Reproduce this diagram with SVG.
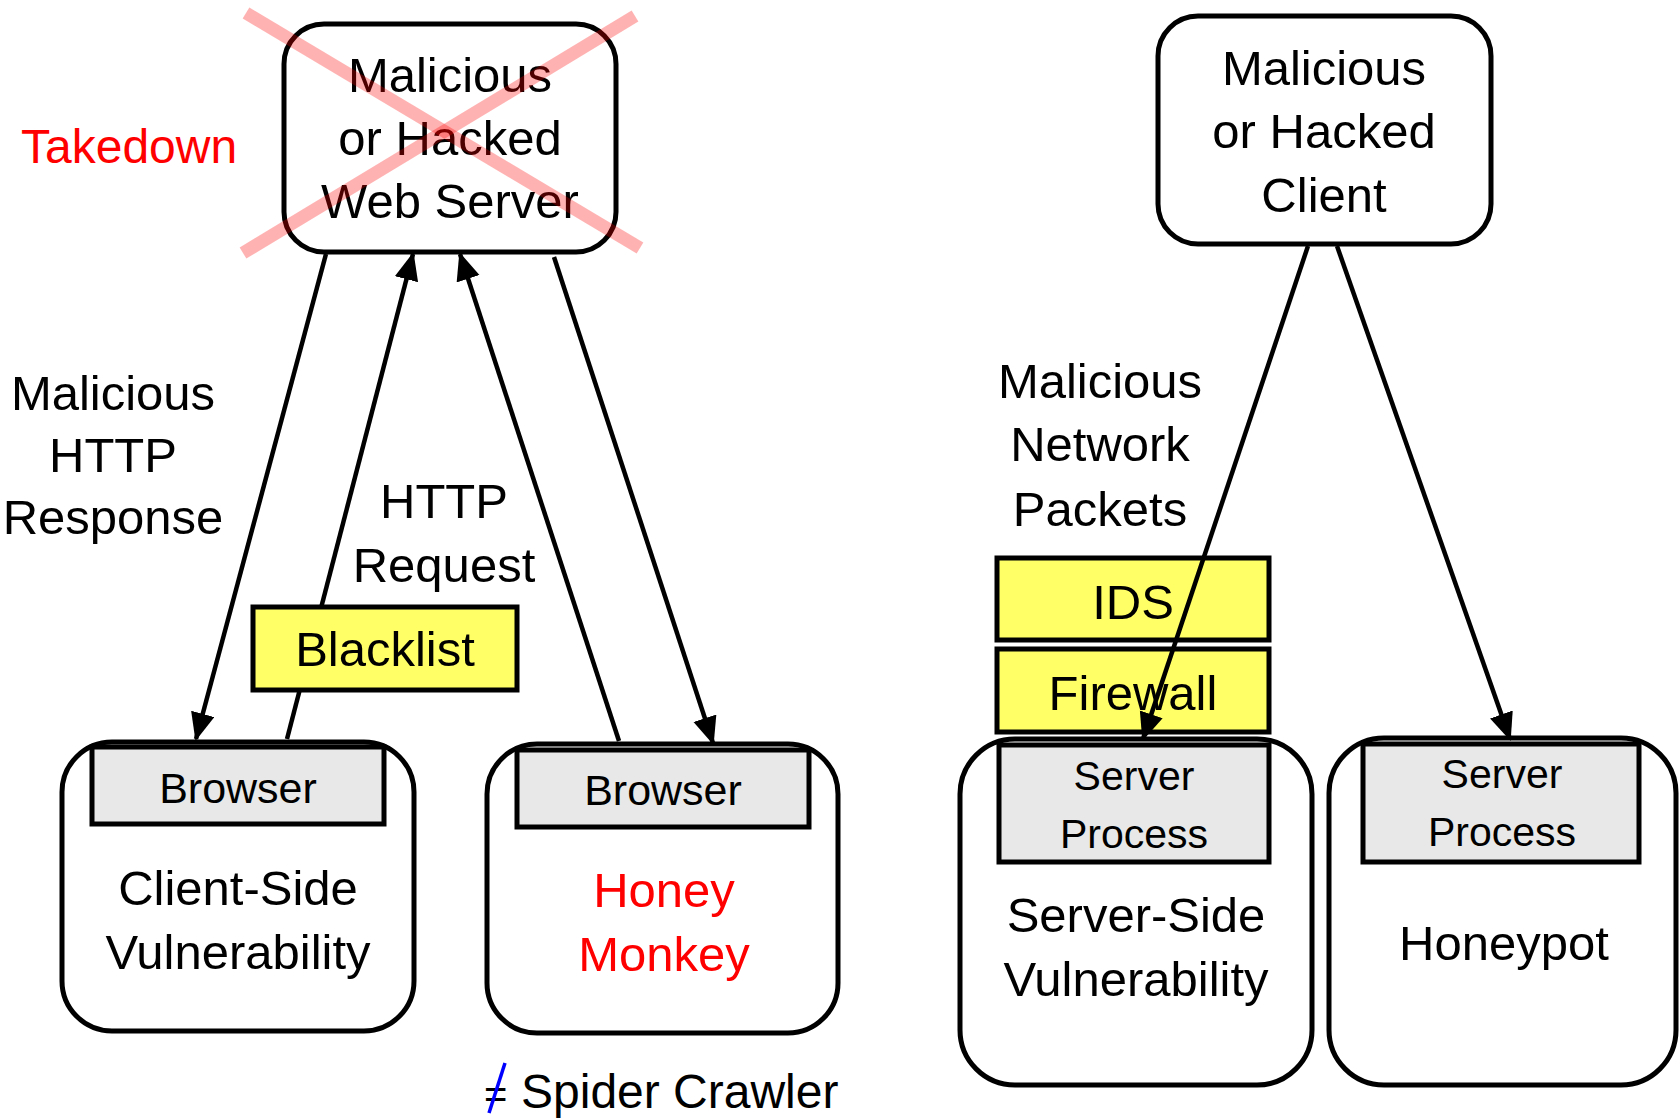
<svg xmlns="http://www.w3.org/2000/svg" width="1679" height="1119" viewBox="0 0 1679 1119">
<defs>
<style>
text{font-family:"Liberation Sans",Arial,sans-serif;fill:#000;text-anchor:middle}
.big{font-size:49px}
.sm{font-size:41px}
.br{font-size:43px}
.red{fill:#ff0000}
.node{fill:#fff;stroke:#000;stroke-width:5}
.sub{fill:#e8e8e8;stroke:#000;stroke-width:5}
.yel{fill:#ffff66;stroke:#000;stroke-width:5}
.conn{stroke:#000;stroke-width:4.5;fill:none;marker-end:url(#arr)}
</style>
<marker id="arr" markerUnits="userSpaceOnUse" markerWidth="30" markerHeight="26" refX="26" refY="12" orient="auto">
<path d="M0,0 L28,12 L0,24 z" fill="#000"/>
</marker>
</defs>
<rect width="1679" height="1119" fill="#fff"/>

<g id="takedown-label"><text class="big red" x="21" y="163" style="text-anchor:start;font-size:48px">Takedown</text></g>

<g id="web-server">
<rect class="node" x="284" y="24" width="332" height="228" rx="40"/>
<text class="big" x="450" y="92">Malicious</text>
<text class="big" x="450" y="155">or Hacked</text>
<text class="big" x="450" y="218">Web Server</text>
</g>

<g id="hacked-client">
<rect class="node" x="1158" y="16" width="333" height="228" rx="40"/>
<text class="big" x="1324" y="85">Malicious</text>
<text class="big" x="1324" y="148">or Hacked</text>
<text class="big" x="1324" y="212">Client</text>
</g>

<g id="label-response">
<text class="big" x="113" y="410">Malicious</text>
<text class="big" x="113" y="472">HTTP</text>
<text class="big" x="113" y="534">Response</text>
</g>
<g id="label-request">
<text class="big" x="444" y="518">HTTP</text>
<text class="big" x="444" y="582">Request</text>
</g>
<g id="label-packets">
<text class="big" x="1100" y="398">Malicious</text>
<text class="big" x="1100" y="461">Network</text>
<text class="big" x="1100" y="526">Packets</text>
</g>

<g id="client-side">
<rect class="node" x="62" y="742" width="352" height="289" rx="50"/>
<rect class="sub" x="92" y="747" width="292" height="77"/>
<text class="br" x="238" y="803">Browser</text>
<text class="big" x="238" y="905">Client-Side</text>
<text class="big" x="238" y="969">Vulnerability</text>
</g>

<g id="honey-monkey">
<rect class="node" x="487" y="744" width="351" height="289" rx="50"/>
<rect class="sub" x="517" y="750" width="292" height="77"/>
<text class="br" x="663" y="805">Browser</text>
<text class="big red" x="664" y="907">Honey</text>
<text class="big red" x="664" y="971">Monkey</text>
</g>

<g id="spider-note">
<text x="484" y="1108" style="text-anchor:start;font-size:40px">=</text>
<line x1="505" y1="1063" x2="489" y2="1113" stroke="#0000ff" stroke-width="3.5"/>
<text x="521" y="1108" style="text-anchor:start;font-size:48px">Spider Crawler</text>
</g>

<g id="ids">
<rect class="yel" x="997" y="558" width="272" height="82"/>
<text class="big" x="1133" y="619">IDS</text>
</g>
<g id="firewall">
<rect class="yel" x="997" y="649" width="272" height="83"/>
<text class="big" x="1133" y="710">Firewall</text>
</g>

<g id="server-side">
<rect class="node" x="960" y="739" width="352" height="346" rx="55"/>
<rect class="sub" x="999" y="745" width="270" height="117"/>
<text class="sm" x="1134" y="790">Server</text>
<text class="sm" x="1134" y="848">Process</text>
<text class="big" x="1136" y="932">Server-Side</text>
<text class="big" x="1136" y="996">Vulnerability</text>
</g>

<g id="honeypot">
<rect class="node" x="1329" y="738" width="347" height="347" rx="55"/>
<rect class="sub" x="1363" y="744" width="276" height="118"/>
<text class="sm" x="1502" y="788">Server</text>
<text class="sm" x="1502" y="846">Process</text>
<text class="big" x="1504" y="960">Honeypot</text>
</g>

<g id="connectors">
<line class="conn" x1="326" y1="254" x2="196" y2="739"/>
<line class="conn" x1="287" y1="739" x2="413" y2="254"/>
<line class="conn" x1="619" y1="741" x2="460" y2="254"/>
<line class="conn" x1="554" y1="257" x2="713" y2="743"/>
<line class="conn" x1="1308" y1="246" x2="1143" y2="739"/>
<line class="conn" x1="1337" y1="246" x2="1510" y2="739"/>
</g>

<g id="blacklist">
<rect class="yel" x="253" y="607" width="264" height="83"/>
<text class="big" x="385" y="666">Blacklist</text>
</g>

<g id="takedown-cross" stroke="#ff0000" stroke-opacity="0.3" stroke-width="13">
<line x1="246" y1="13" x2="640" y2="248"/>
<line x1="635" y1="16" x2="243" y2="253"/>
</g>
</svg>
